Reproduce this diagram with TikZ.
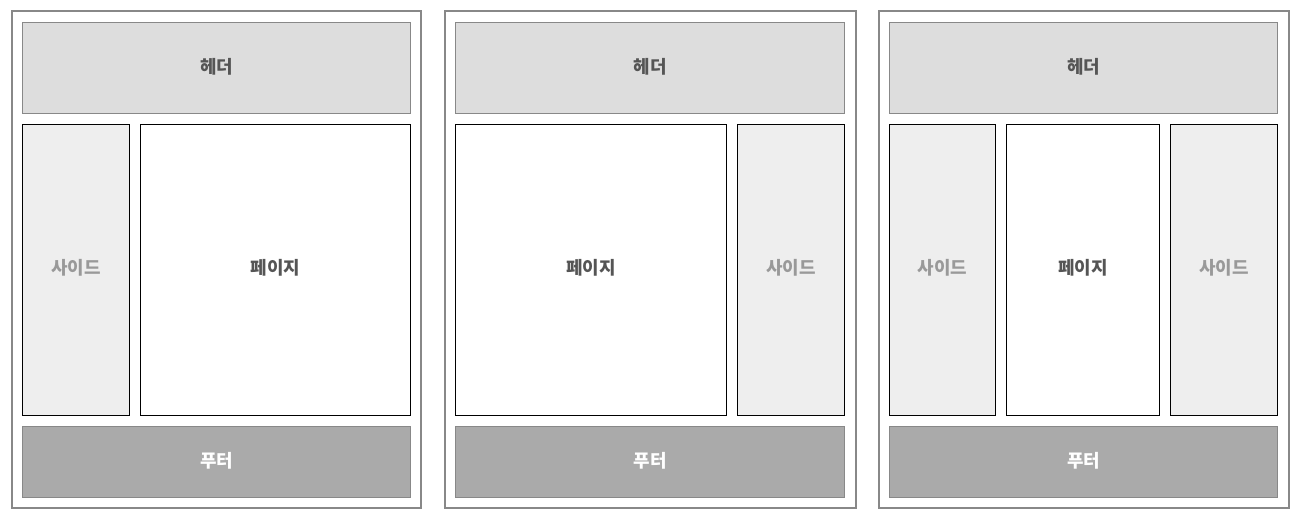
\documentclass[tikz,border=0pt]{standalone}
\usepackage{fontspec}
\newfontfamily\kr{Noto Sans CJK KR}
\definecolor{outerc}{HTML}{888888}
\definecolor{headc}{HTML}{DDDDDD}
\definecolor{sidec}{HTML}{EEEEEE}
\definecolor{footc}{HTML}{AAAAAA}
\definecolor{darktxt}{HTML}{555555}
\definecolor{lighttxt}{HTML}{999999}
\begin{document}
\begin{tikzpicture}[x=1bp,y=-1bp,
  txt/.style={font=\kr\bfseries\fontsize{18}{21}\selectfont},
  outerbox/.style={draw=outerc,line width=2bp},
  headbox/.style={draw=outerc,fill=headc,line width=1bp},
  sidebox/.style={draw=black,fill=sidec,line width=1bp},
  pagebox/.style={draw=black,fill=white,line width=1bp},
  footbox/.style={draw=outerc,fill=footc,line width=1bp}]
\useasboundingbox (0,0) rectangle (1301,520);
\fill[white] (0,0) rectangle (1301,520);
% panel 1
\draw[outerbox] (11.5,11.5) rectangle (421.3,508.3);
\draw[headbox] (22.5,22.5) rectangle (410.5,113.5);
\node[txt,text=darktxt] (h1) at (216.5,67) {헤더};
\draw[sidebox] (22.5,124.5) rectangle (129.5,415.5);
\node[txt,text=lighttxt] (s1) at (76,268) {사이드};
\draw[pagebox] (140.5,124.5) rectangle (410.5,415.5);
\node[txt,text=darktxt] (p1) at (275.5,268) {페이지};
\draw[footbox] (22.5,426.5) rectangle (410.5,497.5);
\node[txt,text=white] (f1) at (216.5,461) {푸터};
% panel 2
\draw[outerbox] (444.5,11.5) rectangle (855.5,508.3);
\draw[headbox] (455.5,22.5) rectangle (844.5,113.5);
\node[txt,text=darktxt] (h2) at (650,67) {헤더};
\draw[pagebox] (455.5,124.5) rectangle (726.5,415.5);
\node[txt,text=darktxt] (p2) at (591,268) {페이지};
\draw[sidebox] (737.5,124.5) rectangle (844.5,415.5);
\node[txt,text=lighttxt] (s2) at (791,268) {사이드};
\draw[footbox] (455.5,426.5) rectangle (844.5,497.5);
\node[txt,text=white] (f2) at (650,461) {푸터};
% panel 3
\draw[outerbox] (878.5,11.5) rectangle (1288.5,508.3);
\draw[headbox] (889.5,22.5) rectangle (1277.5,113.5);
\node[txt,text=darktxt] (h3) at (1083.5,67) {헤더};
\draw[sidebox] (889.5,124.5) rectangle (995.5,415.5);
\node[txt,text=lighttxt] (s3) at (942.5,268) {사이드};
\draw[pagebox] (1006.5,124.5) rectangle (1159.5,415.5);
\node[txt,text=darktxt] (p3) at (1083,268) {페이지};
\draw[sidebox] (1170.5,124.5) rectangle (1277.5,415.5);
\node[txt,text=lighttxt] (s4) at (1224,268) {사이드};
\draw[footbox] (889.5,426.5) rectangle (1277.5,497.5);
\node[txt,text=white] (f3) at (1083.5,461) {푸터};
\end{tikzpicture}
\end{document}
